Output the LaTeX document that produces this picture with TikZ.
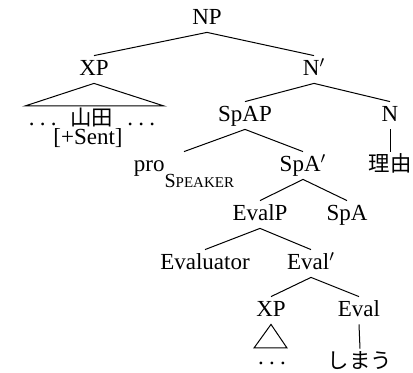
\documentclass[tikz,border=0pt]{standalone}
\usepackage{fontspec}
\setmainfont{Liberation Serif}
\newfontfamily\jafont[Scale=0.93]{Noto Sans CJK JP}
\usetikzlibrary{positioning}
\tikzstyle{cat}=[anchor=base, inner sep=2pt, text height=8pt, text depth=1.5pt]
\tikzstyle{leaf}=[anchor=base, inner sep=0pt]
\tikzstyle{branch}=[draw, line width=0.5pt]
\newcommand{\speakersub}{\raisebox{-8pt}{\fontsize{10}{10}\selectfont S\fontsize{7.5}{7.5}\selectfont PEAKER}}
\newcommand{\spaceddots}{.\kern2.6pt.\kern2.6pt.}

\begin{document}
\begin{tikzpicture}[x=0.5pt, y=-0.5pt, font=\fontsize{11.5}{13}\selectfont]
  \useasboundingbox (0,0) rectangle (413,373);

  % top of the tree
  \path (207,25) node (NP) [cat] {NP};
  \path (NP.base)+(-113,51) node (XPa) [cat] {XP};
  \path (NP.base)+(107,51) node (NBAR) [cat] {N$'$};

  % roofed subject
  \path (XPa.base)+(-2,50) node (YAMADA) [leaf] {\spaceddots\hspace{7pt}{\jafont 山田}\hspace{7pt}\spaceddots};
  \path (YAMADA.base)+(-4,19) node (SENT) [leaf] {[+Sent]};
  \path (XPa.base)+(-69,30) coordinate (roofAL);
  \path (XPa.base)+(70,30) coordinate (roofAR);

  % N' level
  \path (NBAR.base)+(-69,46) node (SPAP) [cat] {SpAP};
  \path (NBAR.base)+(76,46) node (N) [cat] {N};
  \path (N.base)+(0,50) node (RIYU) [cat] {\jafont 理由};

  % SpAP level
  \path (SPAP.base)+(-61,50) node (PRO) [cat] {pro\speakersub};
  \path (SPAP.base)+(58,50) node (SPABAR) [cat] {SpA$'$};
  \path (SPABAR.base)+(-43,49) node (EVALP) [cat] {EvalP};
  \path (SPABAR.base)+(44,49) node (SPA) [cat] {SpA};

  % EvalP level
  \path (EVALP.base)+(-55,49) node (EVALUATOR) [cat] {Evaluator};
  \path (EVALP.base)+(51,49) node (EVALBAR) [cat] {Eval$'$};
  \path (EVALBAR.base)+(-40,47) node (XPb) [cat] {XP};
  \path (EVALBAR.base)+(48,47) node (EVAL) [cat] {Eval};
  \path (XPb.base)+(1,48) node (DOTS) [leaf] {\spaceddots};
  \path (EVAL.base)+(1,52) node (SHIMAU) [cat] {\jafont しまう};
  \path (XPb.base)+(-17,31) coordinate (roofBL);
  \path (XPb.base)+(16,31) coordinate (roofBR);

  % branches
  \path [branch] (NP.south) -- (XPa.north);
  \path [branch] (NP.south) -- (NBAR.north);
  \path [branch] (XPa.south) -- (roofAL) -- (roofAR) -- cycle;
  \path [branch] (NBAR.south) -- (SPAP.north);
  \path [branch] (NBAR.south) -- (N.north);
  \path [branch] (N.south) -- (RIYU.north);
  \path [branch] (SPAP.south) -- (PRO.north);
  \path [branch] (SPAP.south) -- (SPABAR.north);
  \path [branch] (SPABAR.south) -- (EVALP.north);
  \path [branch] (SPABAR.south) -- (SPA.north);
  \path [branch] (EVALP.south) -- (EVALUATOR.north);
  \path [branch] (EVALP.south) -- (EVALBAR.north);
  \path [branch] (EVALBAR.south) -- (XPb.north);
  \path [branch] (EVALBAR.south) -- (EVAL.north);
  \path [branch] (XPb.south) -- (roofBL) -- (roofBR) -- cycle;
  \path [branch] (EVAL.south) -- (SHIMAU.north);
\end{tikzpicture}
\end{document}
